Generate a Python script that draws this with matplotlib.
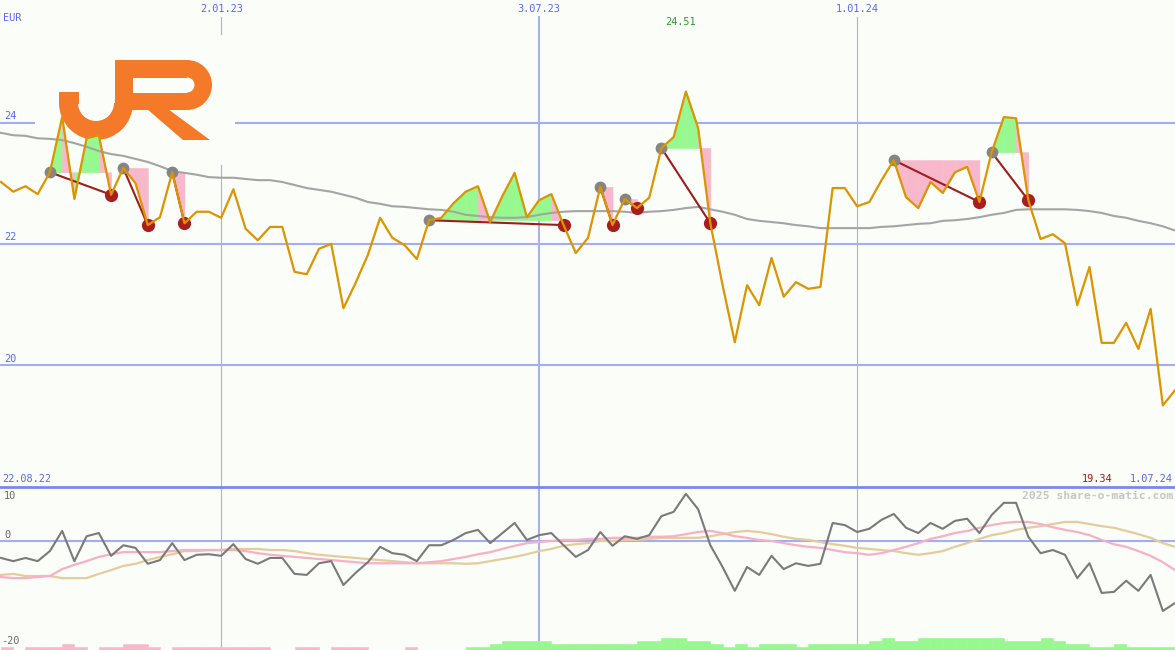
import matplotlib
matplotlib.use('Agg')
import matplotlib.pyplot as plt
import numpy as np
from matplotlib import transforms as mtransforms
from matplotlib.patches import Rectangle, Wedge, Polygon
from matplotlib.lines import Line2D

# ---------------- data (weekly points, 22.08.22 .. 1.07.24) ----------------
price = [23.02, 22.86, 22.95, 22.82, 23.18, 24.09, 22.74, 23.74, 23.79, 22.81,
         23.25, 23.00, 22.31, 22.44, 23.18, 22.34, 22.53, 22.53, 22.43, 22.90,
         22.25, 22.06, 22.28, 22.28, 21.54, 21.50, 21.92, 22.00, 20.94, 21.36,
         21.82, 22.43, 22.10, 21.98, 21.75, 22.39, 22.43, 22.67, 22.86, 22.95,
         22.36, 22.79, 23.17, 22.44, 22.72, 22.82, 22.31, 21.85, 22.10, 22.94,
         22.31, 22.74, 22.59, 22.76, 23.58, 23.76, 24.51, 23.91, 22.34, 21.32,
         20.38, 21.32, 20.99, 21.77, 21.13, 21.37, 21.26, 21.29, 22.92, 22.92,
         22.62, 22.69, 23.05, 23.38, 22.77, 22.59, 23.02, 22.84, 23.18, 23.27,
         22.69, 23.51, 24.09, 24.07, 22.72, 22.08, 22.16, 22.01, 20.99, 21.62,
         20.37, 20.37, 20.70, 20.27, 20.93, 19.34, 19.59]

moving_avg = [23.83, 23.79, 23.78, 23.74, 23.73, 23.71, 23.66, 23.60, 23.53, 23.48,
              23.45, 23.40, 23.35, 23.28, 23.20, 23.17, 23.14, 23.10, 23.09, 23.09,
              23.07, 23.05, 23.05, 23.02, 22.97, 22.92, 22.89, 22.86, 22.81, 22.76,
              22.69, 22.66, 22.62, 22.61, 22.59, 22.57, 22.56, 22.53, 22.48, 22.46,
              22.44, 22.43, 22.43, 22.44, 22.48, 22.51, 22.53, 22.54, 22.54, 22.54,
              22.54, 22.53, 22.51, 22.53, 22.54, 22.56, 22.59, 22.61, 22.57, 22.53,
              22.48, 22.41, 22.38, 22.36, 22.34, 22.31, 22.29, 22.26, 22.26, 22.26,
              22.26, 22.26, 22.28, 22.29, 22.31, 22.33, 22.34, 22.38, 22.39, 22.41,
              22.44, 22.48, 22.51, 22.56, 22.57, 22.57, 22.57, 22.57, 22.56, 22.54,
              22.51, 22.46, 22.43, 22.38, 22.34, 22.29, 22.22]

# swing segments: (high index, low index)
swing_highs = [4, 10, 14, 35, 49, 51, 54, 73, 81]
swing_lows = [9, 12, 15, 46, 50, 52, 58, 80, 84]

osc_main = [-3.2, -3.8, -3.2, -3.8, -1.9, 1.9, -3.8, 0.9, 1.5, -2.8,
            -0.8, -1.3, -4.3, -3.6, -0.4, -3.6, -2.6, -2.5, -2.8, -0.6,
            -3.4, -4.3, -3.2, -3.2, -6.2, -6.4, -4.2, -3.8, -8.3, -6.0,
            -4.0, -1.1, -2.3, -2.6, -3.8, -0.8, -0.8, 0.2, 1.5, 2.1,
            -0.4, 1.5, 3.4, 0.2, 1.1, 1.5, -0.8, -3.0, -1.7, 1.7,
            -0.9, 0.9, 0.4, 1.1, 4.7, 5.5, 8.9, 6.0, -0.8, -4.9,
            -9.4, -4.9, -6.4, -2.8, -5.3, -4.2, -4.7, -4.3, 3.4, 3.0,
            1.7, 2.3, 4.0, 5.1, 2.5, 1.5, 3.4, 2.3, 3.8, 4.2,
            1.5, 4.9, 7.2, 7.2, 0.8, -2.3, -1.7, -2.6, -7.0, -4.2,
            -9.8, -9.6, -7.5, -9.4, -6.4, -13.2, -11.7]

osc_pink = [-6.8, -7.0, -7.0, -6.8, -6.6, -5.3, -4.5, -3.8, -3.0, -2.5,
            -2.1, -2.1, -2.1, -2.1, -1.9, -1.7, -1.7, -1.7, -1.7, -1.7,
            -1.9, -2.3, -2.6, -2.8, -3.0, -3.2, -3.4, -3.6, -3.8, -4.0,
            -4.2, -4.2, -4.2, -4.2, -4.2, -4.0, -3.8, -3.4, -3.0, -2.5,
            -2.1, -1.5, -0.9, -0.4, -0.2, 0.0, 0.2, 0.2, 0.4, 0.4,
            0.6, 0.6, 0.6, 0.8, 0.8, 0.9, 1.3, 1.7, 1.9, 1.5,
            0.9, 0.6, 0.2, 0.0, -0.4, -0.8, -1.1, -1.3, -1.7, -2.1,
            -2.3, -2.6, -2.3, -1.7, -1.1, -0.4, 0.4, 0.9, 1.5, 1.9,
            2.5, 3.0, 3.4, 3.6, 3.6, 3.2, 2.6, 2.1, 1.7, 1.1,
            0.2, -0.6, -1.1, -1.9, -2.8, -4.0, -5.5]

osc_tan = [-6.4, -6.2, -6.6, -6.6, -6.6, -7.0, -7.0, -7.0, -6.2, -5.5,
           -4.7, -4.3, -3.6, -3.0, -2.5, -1.9, -1.9, -1.7, -1.7, -1.5,
           -1.5, -1.5, -1.7, -1.7, -1.9, -2.3, -2.6, -2.8, -3.0, -3.2,
           -3.4, -3.6, -3.8, -4.0, -4.2, -4.2, -4.2, -4.2, -4.3, -4.2,
           -3.8, -3.4, -3.0, -2.5, -1.9, -1.5, -0.9, -0.6, -0.4, 0.0,
           0.0, 0.2, 0.2, 0.4, 0.6, 0.6, 0.6, 0.6, 0.9, 1.3,
           1.7, 1.9, 1.7, 1.3, 0.8, 0.4, 0.2, -0.2, -0.6, -0.9,
           -1.3, -1.5, -1.7, -1.9, -2.3, -2.6, -2.3, -1.9, -1.1, -0.4,
           0.4, 1.1, 1.5, 2.1, 2.5, 2.8, 3.2, 3.6, 3.6, 3.2,
           2.8, 2.5, 1.9, 1.3, 0.6, -0.4, -1.1]

trend_bars = [-1, 0, -1, -1, -1, -2, -1, 0, -1, -1,
              -2, -2, -1, 0, -1, -1, -1, -1, -1, -1,
              -1, -1, 0, 0, -1, -1, 0, -1, -1, -1,
              0, 0, 0, -1, 0, 0, 0, 0, 1, 1,
              2, 3, 3, 3, 3, 2, 2, 2, 2, 2,
              2, 2, 3, 3, 4, 4, 3, 3, 2, 1,
              2, 1, 2, 2, 2, 1, 2, 2, 2, 2,
              2, 3, 4, 3, 3, 4, 4, 4, 4, 4,
              4, 4, 3, 3, 3, 4, 3, 2, 2, 1,
              1, 2, 1, 1, 1, 1, 0]

date_ticks = [18, 44, 70]
date_labels = ['2.01.23', '3.07.23', '1.01.24']
price_ticks = [24, 22, 20]
osc_ticks = [10, 0, -20]
start_label, end_label = '22.08.22', '1.07.24'
high_label, low_label = '24.51', '19.34'

# ---------------- figure ----------------
W, H = 1175, 650
fig = plt.figure(figsize=(W / 100, H / 100), dpi=100)
bg = '#fbfdf9'
fig.patch.set_facecolor(bg)
pix = mtransforms.Affine2D().scale(1 / W, -1 / H).translate(0, 1) + fig.transFigure

DIV = 487
ax = fig.add_axes([0, (H - DIV) / H, 1, DIV / H])
osc = fig.add_axes([0, 0, 1, (H - DIV) / H])
for a in (ax, osc):
    a.set_facecolor(bg)
    a.set_axis_off()

k = np.arange(len(price))
step = 12.23
xl = (-1 / step, (W - 1) / step)
ax.set_xlim(*xl)
osc.set_xlim(*xl)
ppu = 60.7
ax.set_ylim(24 - (DIV - 122.5) / ppu, 24 + 122.5 / ppu)
opu = 5.3
osc.set_ylim(-(H - 541) / opu, (541 - DIV) / opu)

grid_c = '#a3adf2'
for v in price_ticks:
    ax.axhline(v, color=grid_c, lw=1.5, zorder=1)
vtop = (DIV - 17) / DIV
for t, lw in zip(date_ticks, [0.8, 1.5, 0.8]):
    ax.axvline(t, ymin=0, ymax=vtop, color='#a9b1ea', lw=lw, zorder=1)
    osc.axvline(t, color='#a9b1ea', lw=lw, zorder=1)

# logo backdrop and logo
ax.add_patch(Rectangle((35, 35), 200, 130, transform=pix, facecolor=bg,
                       edgecolor='none', zorder=2))
orange = '#f47a2a'
logo_parts = [
    Wedge((96, 103), 37, 0, 180, width=19),
    Rectangle((59, 92), 20, 12),
    Rectangle((115, 60), 18, 50),
    Rectangle((115, 60), 72, 18),
    Rectangle((115, 93), 72, 17),
    Wedge((187, 85), 25, -90, 90, width=17.5),
    Polygon([(147, 109), (168, 109), (210, 140), (183, 140)]),
]
for p in logo_parts:
    p.set_transform(pix)
    p.set_facecolor(orange)
    p.set_edgecolor('none')
    p.set_zorder(2.5)
    ax.add_patch(p)

# swing fills
green_c = '#98f890'
pink_c = '#f8b8cc'
pr = np.array(price)
for g, r in zip(swing_highs, swing_lows):
    level = pr[g]
    for i in range(g, r):
        col = green_c if pr[i + 1] >= level else pink_c
        ax.fill_between(k[i:i + 2], level, pr[i:i + 2], facecolor=col,
                        edgecolor=col, lw=0.4, zorder=3)

ax.plot(k, moving_avg, color='#a4a4a4', lw=1.5, zorder=4)
for g, r in zip(swing_highs, swing_lows):
    ax.plot([k[g], k[r]], [pr[g], pr[r]], color='#a01c1c', lw=1.5, zorder=5)
ax.plot(k[swing_highs], pr[swing_highs], 'o', color='#858585', ms=8.5, mec='none', zorder=5.5)
ax.plot(k[swing_lows], pr[swing_lows], 'o', color='#a81e1e', ms=9.5, mec='none', zorder=5.5)
ax.plot(k, pr, color='#dc9400', lw=1.6, zorder=6)

# oscillator panel
osc.axhline(0, color=grid_c, lw=1.5, zorder=1)
bar_px = 3.0
ylo = osc.get_ylim()[0]
bars = np.array(trend_bars)
bar_cols = [green_c if b > 0 else pink_c for b in bars]
osc.bar(k, np.abs(bars) * bar_px / opu, width=1.0, align='edge', bottom=ylo,
        color=bar_cols, edgecolor=bar_cols, lw=0.4, zorder=2)
osc.plot(k, osc_tan, color='#e4cc9c', lw=1.6, zorder=3)
osc.plot(k, osc_pink, color='#f8b0c6', lw=1.6, zorder=3)
osc.plot(k, osc_main, color='#7a7a7a', lw=1.5, zorder=4)

fig.add_artist(Line2D([0, W], [DIV, DIV], transform=pix, color='#7a88ee', lw=2))

# texts
mono = 'DejaVu Sans Mono'
blue = '#5a68f0'
def ptxt(x, y, s, color=blue, ha='left', size=7.4, weight='normal'):
    fig.text(x, y, s, transform=pix, color=color, ha=ha, va='center',
             family=mono, fontsize=size, fontweight=weight)

ptxt(3, 18, 'EUR')
for t, lab in zip(date_ticks, date_labels):
    ptxt(1 + step * t, 9, lab, ha='center')
for v in price_ticks:
    ptxt(4, 122.5 + (24 - v) * ppu - 6.5, str(v))
ptxt(680, 22, high_label, color='#2a9a2a', ha='center')
ptxt(2, 479, start_label)
ptxt(1112, 479, low_label, color='#a01818', ha='right')
ptxt(1173, 479, end_label, ha='right')
ptxt(1173, 496, '2025 share-o-matic.com', color='#c6c6c6', ha='right', size=8.2, weight='bold')
osc_label_y = {10: 496, 0: 535, -20: 641}
for v in osc_ticks:
    ptxt(4 if v >= 0 else 1, osc_label_y[v], str(v), color='#6a6a6a')

fig.savefig('out.png', dpi=100, facecolor=bg)
